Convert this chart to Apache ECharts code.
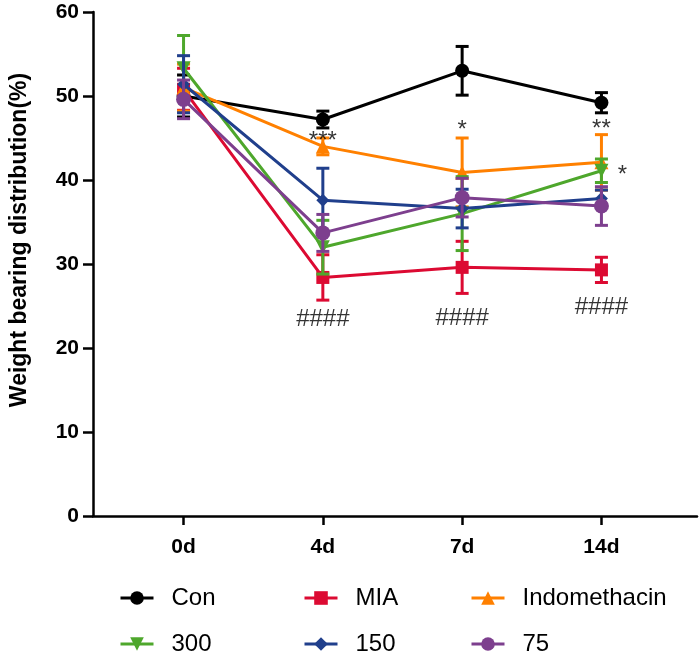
<!DOCTYPE html>
<html>
<head>
<meta charset="utf-8">
<script src="https://cdn.jsdelivr.net/npm/echarts@6/dist/echarts.min.js"></script>
<style>html,body{margin:0;padding:0;background:#fff}#c{width:700px;height:656px}</style>
</head>
<body>
<div id="c"></div>
<script>
const categories = ['0d', '4d', '7d', '14d'];
const yTicks = [0, 10, 20, 30, 40, 50, 60];

const conVals = [50.0, 47.2, 53.0, 49.2];
const conErr  = [2.5, 1.0, 2.9, 1.2];
const miaVals = [50.8, 28.4, 29.6, 29.3];
const miaErr  = [2.5, 2.7, 3.1, 1.5];
const indoVals = [51.0, 44.0, 40.9, 42.1];
const indoErr  = [2.8, 1.0, 4.1, 3.3];
const d300Vals = [53.3, 32.0, 36.0, 41.1];
const d300Err  = [3.9, 3.2, 4.4, 1.4];
const d150Vals = [51.4, 37.6, 36.6, 37.8];
const d150Err  = [3.4, 3.8, 2.3, 1.0];
const d75Vals = [49.6, 33.7, 37.9, 36.9];
const d75Err  = [2.3, 2.2, 2.3, 2.3];

// significance marks: [x position (category index), y value, text]
const marks = [
  [1, 44.6, '***'],
  [2, 45.9, '*'],
  [3, 46.0, '**'],
  [3.15, 40.5, '*'],
  [1, 23.4, '####'],
  [2, 23.5, '####'],
  [3, 24.8, '####']
];

const groups = [
  {name: 'Con', vals: conVals, err: conErr, color: '#000000', symbol: 'circle', size: 14, rot: 0},
  {name: 'MIA', vals: miaVals, err: miaErr, color: '#dc0a32', symbol: 'rect', size: 13, rot: 0},
  {name: 'Indomethacin', vals: indoVals, err: indoErr, color: '#ff8000', symbol: 'triangle', size: 14, rot: 0},
  {name: '300', vals: d300Vals, err: d300Err, color: '#4ea72c', symbol: 'triangle', size: 14, rot: 180},
  {name: '150', vals: d150Vals, err: d150Err, color: '#203f8c', symbol: 'diamond', size: 13, rot: 0},
  {name: '75', vals: d75Vals, err: d75Err, color: '#7d3f8e', symbol: 'circle', size: 15, rot: 0}
];

const FONT = '"Liberation Sans", Arial, sans-serif';

const series = [];
groups.forEach((g, gi) => {
  series.push({
    name: g.name + ' err',
    type: 'custom',
    z: 2 + gi * 2,
    silent: true,
    encode: {x: 0, y: 1},
    data: g.vals.map((v, i) => [i, v, g.err[i]]),
    renderItem: function (params, api) {
      const x = api.value(0), y = api.value(1), e = api.value(2);
      const t = api.coord([x, y + e]);
      const b = api.coord([x, y - e]);
      const hw = 6.5;
      const st = {stroke: g.color, lineWidth: 3};
      return {type: 'group', children: [
        {type: 'line', shape: {x1: t[0], y1: t[1], x2: b[0], y2: b[1]}, style: st},
        {type: 'line', shape: {x1: t[0] - hw, y1: t[1], x2: t[0] + hw, y2: t[1]}, style: st},
        {type: 'line', shape: {x1: b[0] - hw, y1: b[1], x2: b[0] + hw, y2: b[1]}, style: st}
      ]};
    }
  });
  series.push({
    name: g.name,
    type: 'line',
    z: 3 + gi * 2,
    data: g.vals.map((v, i) => [i, v]),
    symbol: g.symbol,
    symbolSize: g.size,
    symbolRotate: g.rot,
    showSymbol: true,
    lineStyle: {color: g.color, width: 3},
    itemStyle: {color: g.color, borderWidth: 0},
    emphasis: {disabled: true},
    animation: false
  });
});

series.push({
  name: 'marks',
  type: 'scatter',
  z: 20,
  silent: true,
  symbolSize: 0,
  data: marks,
  label: {
    show: true,
    position: 'inside',
    formatter: p => p.data[2],
    color: '#000',
    fontSize: 24,
    fontFamily: FONT
  }
});

const legendPos = [
  {name: 'Con', left: 119, top: 586},
  {name: 'MIA', left: 303, top: 586},
  {name: 'Indomethacin', left: 470, top: 586},
  {name: '300', left: 119, top: 632},
  {name: '150', left: 303, top: 632},
  {name: '75', left: 470, top: 632}
];

const legends = legendPos.map(l => ({
  data: [l.name],
  left: l.left,
  top: l.top,
  padding: 0,
  itemWidth: 33,
  itemHeight: 17,
  selectedMode: false,
  lineStyle: {width: 3},
  textStyle: {fontSize: 24, lineHeight: 24, fontFamily: FONT, color: '#000', padding: [0, 0, 0, 13]}
}));

const chart = echarts.init(document.getElementById('c'), null, {renderer: 'canvas'});
chart.setOption({
  animation: false,
  backgroundColor: '#ffffff',
  grid: {left: 90, right: 3, top: 12, bottom: 140, containLabel: false},
  legend: legends,
  xAxis: {
    type: 'value',
    min: -0.65,
    max: 3.686,
    splitLine: {show: false},
    axisLine: {show: true, onZero: false, lineStyle: {color: '#000', width: 2.5}},
    axisTick: {show: true, customValues: [0, 1, 2, 3], length: 9, lineStyle: {color: '#000', width: 2.5}},
    axisLabel: {
      customValues: [0, 1, 2, 3],
      formatter: v => categories[Math.round(v)],
      fontSize: 21, fontWeight: 'bold', fontFamily: FONT, color: '#000', margin: 21
    }
  },
  yAxis: {
    type: 'value',
    min: yTicks[0],
    max: yTicks[yTicks.length - 1],
    interval: 10,
    splitLine: {show: false},
    axisLine: {show: true, onZero: false, lineStyle: {color: '#000', width: 2.5}},
    axisTick: {show: true, length: 10, lineStyle: {color: '#000', width: 2.5}},
    axisLabel: {fontSize: 21, fontWeight: 'bold', fontFamily: FONT, color: '#000', margin: 14},
    name: 'Weight bearing distribution(%)',
    nameLocation: 'middle',
    nameGap: 62,
    nameTextStyle: {fontSize: 23, fontWeight: 'bold', fontFamily: FONT, color: '#000', padding: [0, 0, 0, 48]}
  },
  series: series
});
</script>
</body>
</html>
